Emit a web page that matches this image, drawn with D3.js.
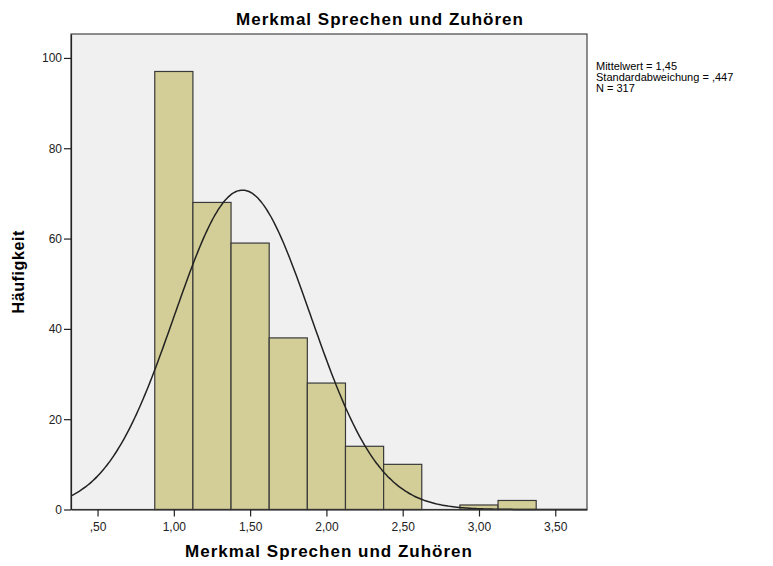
<!DOCTYPE html>
<html>
<head>
<meta charset="utf-8">
<script src="https://cdn.jsdelivr.net/npm/d3@7"></script>
<style>
  body { margin: 0; background: #fff; }
  text { font-family: Arial, "Liberation Sans", sans-serif; fill: #000; }
</style>
</head>
<body>
<div id="draw"></div>
<script>
// data
let binStarts = [0.875, 1.125, 1.375, 1.625, 1.875, 2.125, 2.375, 2.625, 2.875, 3.125];
let counts = [97, 68, 59, 38, 28, 14, 10, 0, 1, 2];
let binWidth = 0.25;
let xTicks = [0.5, 1.0, 1.5, 2.0, 2.5, 3.0, 3.5];
let yTicks = [0, 20, 40, 60, 80, 100];
let stats = { mean: 1.45, sd: 0.447, n: 317 };
let legendLines = ['Mittelwert = 1,45', 'Standardabweichung = ,447', 'N = 317'];
let title = 'Merkmal Sprechen und Zuhören';

// parameters
let width = 773, height = 566;
let plot = { left: 71, right: 587, top: 34, bottom: 509.5 };
let fmt = v => d3.format('.2f')(v).replace('.', ',').replace(/^0,/, ',');

let x = d3.scaleLinear().domain([0.326, 3.708]).range([plot.left, plot.right]);
let y = d3.scaleLinear().domain([0, 105.3]).range([plot.bottom, plot.top]);

let svg = d3.select('#draw').append('svg').attr('width', width).attr('height', height);

// plot background
svg.append('rect')
    .attr('x', plot.left).attr('y', plot.top)
    .attr('width', plot.right - plot.left).attr('height', plot.bottom - plot.top)
    .style('fill', '#f0f0f0');

// bars
let bins = binStarts.map((s, i) => ({ x0: s, x1: s + binWidth, n: counts[i] })).filter(d => d.n > 0);
svg.append('g').selectAll('rect')
    .data(bins)
    .enter()
    .append('rect')
    .attr('x', d => x(d.x0))
    .attr('y', d => y(d.n))
    .attr('width', d => x(d.x1) - x(d.x0))
    .attr('height', d => y(0) - y(d.n))
    .style('fill', '#d3ce97')
    .style('stroke', '#3a3a3a')
    .style('stroke-width', 1.2);

// normal curve from mean / sd
let dom = x.domain();
let pts = d3.range(0, 301).map(i => {
    let v = dom[0] + (dom[1] - dom[0]) * i / 300;
    let z = (v - stats.mean) / stats.sd;
    return [v, stats.n * binWidth * Math.exp(-z * z / 2) / (stats.sd * Math.sqrt(2 * Math.PI))];
});
svg.append('path')
    .datum(pts)
    .attr('d', d3.line().x(d => x(d[0])).y(d => y(d[1])).curve(d3.curveBasis))
    .style('fill', 'none')
    .style('stroke', '#222')
    .style('stroke-width', 1.5);

// frame
svg.append('rect')
    .attr('x', plot.left).attr('y', plot.top)
    .attr('width', plot.right - plot.left).attr('height', plot.bottom - plot.top)
    .style('fill', 'none')
    .style('stroke', '#444')
    .style('stroke-width', 1.2);

// axes
let xAxis = d3.axisBottom(x).tickValues(xTicks).tickFormat(fmt).tickSize(7).tickSizeOuter(0);
let gx = svg.append('g').attr('transform', 'translate(0,' + plot.bottom + ')').call(xAxis);
let yAxis = d3.axisLeft(y).tickValues(yTicks).tickSize(7).tickSizeOuter(0);
let gy = svg.append('g').attr('transform', 'translate(' + plot.left + ',0)').call(yAxis);
[gx, gy].forEach(g => {
    g.select('.domain').style('stroke', '#222').style('stroke-width', 1.2);
    g.selectAll('.tick line').style('stroke', '#222').style('stroke-width', 1.2);
    g.selectAll('.tick text').style('font-size', '12px').style('font-family', 'Arial, "Liberation Sans", sans-serif').style('fill', '#222');
});
gx.selectAll('.tick text').attr('dy', '0.95em');
gy.selectAll('.tick text').attr('x', -9);

// titles
svg.append('text')
    .attr('x', 380).attr('y', 25)
    .attr('text-anchor', 'middle')
    .style('font-size', '17px').style('font-weight', 'bold').style('letter-spacing', '1px')
    .text(title);
svg.append('text')
    .attr('x', (plot.left + plot.right) / 2).attr('y', 557)
    .attr('text-anchor', 'middle')
    .style('font-size', '17px').style('font-weight', 'bold').style('letter-spacing', '1px')
    .text(title);
svg.append('text')
    .attr('transform', 'translate(24,' + ((plot.top + plot.bottom) / 2) + ') rotate(-90)')
    .attr('text-anchor', 'middle')
    .style('font-size', '16px').style('font-weight', 'bold').style('letter-spacing', '0.6px')
    .text('Häufigkeit');

// legend
svg.append('g').selectAll('text')
    .data(legendLines)
    .enter()
    .append('text')
    .attr('x', 596)
    .attr('y', (d, i) => 70 + i * 10.8)
    .style('font-size', '11px')
    .text(d => d);
</script>
</body>
</html>
